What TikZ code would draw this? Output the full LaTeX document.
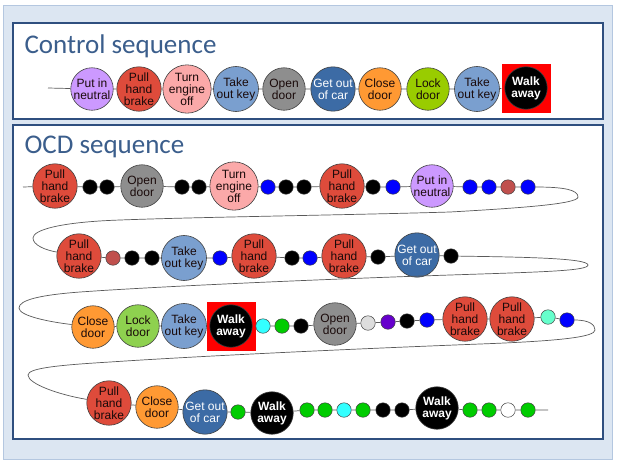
\documentclass[tikz,border=0pt]{standalone}
\usepackage{fontspec}
\setmainfont{Liberation Sans}
\newfontfamily\headfont{Carlito}
\definecolor{framefill}{HTML}{DCE6F2}
\definecolor{frameline}{HTML}{B4C7E0}
\definecolor{panelblue}{HTML}{2F4F7F}
\definecolor{headblue}{HTML}{3B5E8C}
\definecolor{edgegray}{HTML}{404040}
\definecolor{wiregray}{HTML}{5A5A5A}
\definecolor{lavender}{HTML}{CC99FF}
\definecolor{brakered}{HTML}{DE4B3B}
\definecolor{pinkoff}{HTML}{FBA9A9}
\definecolor{keyblue}{HTML}{7A9FCF}
\definecolor{doorgray}{HTML}{8E8E8E}
\definecolor{carblue}{HTML}{3C6BA5}
\definecolor{orangedoor}{HTML}{FF9933}
\definecolor{limegreen}{HTML}{99CC00}
\definecolor{lockgreen}{HTML}{8ED14F}
\definecolor{dotblue}{HTML}{0000FF}
\definecolor{brick}{HTML}{C0504D}
\definecolor{dotcyan}{HTML}{33FFFF}
\definecolor{dotgreen}{HTML}{00CC00}
\definecolor{dotgray}{HTML}{DDDDDD}
\definecolor{dotpurple}{HTML}{6600CC}
\definecolor{dotaqua}{HTML}{66FFCC}
\definecolor{darktext}{HTML}{1A0A0A}

\begin{document}
\begin{tikzpicture}[x=1pt,y=-1pt,
  wire/.style={draw=wiregray,line width=0.7pt},
  panel/.style={draw=panelblue,line width=1.5pt,fill=white},
  heading/.style={anchor=base west,text=headblue,font=\headfont\fontsize{27}{30}\selectfont},
  act/.style={circle,draw=edgegray,line width=0.6pt,minimum size=42.5pt,inner sep=0pt,
    align=center,text=darktext,font=\fontsize{12}{12}\selectfont},
  bead/.style={circle,draw=edgegray,line width=0.5pt,minimum size=14.5pt,inner sep=0pt},
  putneutral/.style={act,fill=lavender},
  handbrake/.style={act,fill=brakered},
  engineoff/.style={act,fill=pinkoff},
  takekey/.style={act,fill=keyblue},
  opendoor/.style={act,fill=doorgray},
  leavecar/.style={act,fill=carblue,text=white},
  closedoor/.style={act,fill=orangedoor},
  lockdoor/.style={act,fill=lockgreen},
  walkaway/.style={act,fill=black,text=white,font=\bfseries\fontsize{12}{12}\selectfont},
  walksq/.style={rectangle,fill=red,minimum size=49pt,inner sep=0pt}]
  \useasboundingbox (0,0) rectangle (617,464);
  \fill[white] (0,0) rectangle (617,464);
  % frame and panels
  \draw[draw=frameline,fill=framefill] (3,5) rectangle (612,459);
  \draw[panel] (13,23) rectangle (603,119);
  \draw[panel] (13,125) rectangle (603,439);
  \node[heading] (ctltitle) at (21,53) {Control sequence};
  \node[heading] (ocdtitle) at (21,153) {OCD sequence};

  % control sequence
  \coordinate (cstart) at (48,88);
  \node[putneutral] (c1) at (92,89) {Put in\\neutral};
  \node[handbrake] (c2) at (139,89) {Pull\\hand\\brake};
  \node[engineoff] (c3) at (187,89) {Turn\\engine\\off};
  \node[takekey] (c4) at (236,89) {Take\\out key};
  \node[opendoor] (c5) at (284,89) {Open\\door};
  \node[leavecar] (c6) at (333,89) {Get out\\of car};
  \node[closedoor] (c7) at (380,89) {Close\\door};
  \node[lockdoor,fill=limegreen] (c8) at (428,89) {Lock\\door};
  \node[takekey] (c9) at (477,89) {Take\\out key};
  \node[walksq] (c10sq) at (526,88) {};
  \node[walkaway] (c10) at (526,88) {Walk\\away};
  \draw[wire] (cstart) -- (c1) -- (c2) -- (c3) -- (c4) -- (c5) -- (c6) -- (c7) -- (c8) -- (c9) -- (c10sq);

  % OCD row 1
  \coordinate (r1start) at (23,187);
  \node[handbrake] (r1a) at (55,186) {Pull\\hand\\brake};
  \node[bead,fill=black] (r1b) at (90,187) {};
  \node[bead,fill=black] (r1c) at (107,187) {};
  \node[opendoor] (r1d) at (142,186) {Open\\door};
  \node[bead,fill=black] (r1e) at (182,187) {};
  \node[bead,fill=black] (r1f) at (199,187) {};
  \node[engineoff] (r1g) at (234,186) {Turn\\engine\\off};
  \node[bead,fill=dotblue] (r1h) at (268,187) {};
  \node[bead,fill=black] (r1i) at (286,187) {};
  \node[bead,fill=black] (r1j) at (304,187) {};
  \node[handbrake] (r1k) at (342,186) {Pull\\hand\\brake};
  \node[bead,fill=black] (r1l) at (373,187) {};
  \node[bead,fill=dotblue] (r1m) at (393,187) {};
  \node[putneutral] (r1n) at (432,186) {Put in\\neutral};
  \node[bead,fill=dotblue] (r1o) at (470,187) {};
  \node[bead,fill=dotblue] (r1p) at (489,187) {};
  \node[bead,fill=brick] (r1q) at (508,187) {};
  \node[bead,fill=dotblue] (r1r) at (528,187) {};
  \draw[wire] (r1start) -- (r1a) -- (r1b) -- (r1c) -- (r1d) -- (r1e) -- (r1f) -- (r1g) -- (r1h) -- (r1i)
    -- (r1j) -- (r1k) -- (r1l) -- (r1m) -- (r1n) -- (r1o) -- (r1p) -- (r1q) -- (r1r);

  % OCD row 2
  \node[handbrake] (r2a) at (79,256) {Pull\\hand\\brake};
  \node[bead,fill=brick] (r2b) at (113,258) {};
  \node[bead,fill=black] (r2c) at (132,258) {};
  \node[bead,fill=black] (r2d) at (152,258) {};
  \node[takekey] (r2e) at (184,258) {Take\\out key};
  \node[bead,fill=dotblue] (r2f) at (220,258) {};
  \node[handbrake] (r2g) at (254,256) {Pull\\hand\\brake};
  \node[bead,fill=black] (r2h) at (292,258) {};
  \node[bead,fill=dotblue] (r2i) at (310,258) {};
  \node[handbrake] (r2j) at (344,256) {Pull\\hand\\brake};
  \node[bead,fill=black] (r2k) at (378,257) {};
  \node[leavecar] (r2l) at (417,255) {Get out\\of car};
  \node[bead,fill=black] (r2m) at (451,256) {};
  \draw[wire] (r2a) -- (r2b) -- (r2c) -- (r2d) -- (r2e) -- (r2f) -- (r2g) -- (r2h) -- (r2i) -- (r2j)
    -- (r2k) -- (r2l) -- (r2m);

  % OCD row 3
  \node[closedoor] (r3a) at (93,327) {Close\\door};
  \node[lockdoor] (r3b) at (138,326) {Lock\\door};
  \node[takekey] (r3c) at (184,326) {Take\\out key};
  \node[walksq] (r3dsq) at (231,326) {};
  \node[walkaway] (r3d) at (231,326) {Walk\\away};
  \node[bead,fill=dotcyan] (r3e) at (263,326) {};
  \node[bead,fill=dotgreen] (r3f) at (282,326) {};
  \node[bead,fill=black] (r3g) at (301,326) {};
  \node[opendoor] (r3h) at (335,324) {Open\\door};
  \node[bead,fill=dotgray] (r3i) at (368,323) {};
  \node[bead,fill=dotpurple] (r3j) at (388,322) {};
  \node[bead,fill=black] (r3k) at (407,321) {};
  \node[bead,fill=dotblue] (r3l) at (427,320) {};
  \node[handbrake] (r3m) at (465,319) {Pull\\hand\\brake};
  \node[handbrake] (r3n) at (512,319) {Pull\\hand\\brake};
  \node[bead,fill=dotaqua] (r3o) at (548,317) {};
  \node[bead,fill=dotblue] (r3p) at (567,320) {};
  \draw[wire] (r3a) -- (r3b) -- (r3c) -- (r3dsq) -- (r3e) -- (r3f) -- (r3g) -- (r3h) -- (r3i) -- (r3j)
    -- (r3k) -- (r3l) -- (r3m) -- (r3n) -- (r3o) -- (r3p);

  % OCD row 4
  \node[handbrake] (r4a) at (109,403) {Pull\\hand\\brake};
  \node[closedoor] (r4b) at (157,407) {Close\\door};
  \node[leavecar] (r4c) at (205,412) {Get out\\of car};
  \node[bead,fill=dotgreen] (r4d) at (238,412) {};
  \node[walkaway] (r4e) at (272,413) {Walk\\away};
  \node[bead,fill=dotgreen] (r4f) at (307,410) {};
  \node[bead,fill=dotgreen] (r4g) at (325,410) {};
  \node[bead,fill=dotcyan] (r4h) at (344,410) {};
  \node[bead,fill=dotgreen] (r4i) at (363,410) {};
  \node[bead,fill=black] (r4j) at (383,410) {};
  \node[bead,fill=black] (r4k) at (402,410) {};
  \node[walkaway] (r4l) at (437,408) {Walk\\away};
  \node[bead,fill=dotgreen] (r4m) at (470,410) {};
  \node[bead,fill=dotgreen] (r4n) at (489,410) {};
  \node[bead,fill=white] (r4o) at (508,410) {};
  \node[bead,fill=dotgreen] (r4p) at (528,410) {};
  \coordinate (r4end) at (548,410);
  \draw[wire] (r4a) -- (r4b) -- (r4c) -- (r4d) -- (r4e) -- (r4f) -- (r4g) -- (r4h) -- (r4i) -- (r4j)
    -- (r4k) -- (r4l) -- (r4m) -- (r4n) -- (r4o) -- (r4p) -- (r4end);

  % turns between rows
  \draw[wire] (r1r) .. controls (565,187) and (578,190) .. (578,197)
    .. controls (578,204) and (520,208) .. (450,212)
    .. controls (350,215) and (200,217) .. (120,220)
    .. controls (60,222) and (33,230) .. (33,238)
    .. controls (33,245) and (45,250) .. (r2a);
  \draw[wire] (r2m) .. controls (520,257) and (588,258) .. (588,265)
    .. controls (588,271) and (540,272) .. (450,275)
    .. controls (300,280) and (150,287) .. (80,292)
    .. controls (40,295) and (19,300) .. (19,308)
    .. controls (19,316) and (50,322) .. (r3a);
  \draw[wire] (r3p) .. controls (590,320) and (595,325) .. (595,330)
    .. controls (595,337) and (560,341) .. (480,344)
    .. controls (350,349) and (200,356) .. (110,362)
    .. controls (60,365) and (28,368) .. (28,375)
    .. controls (28,384) and (60,395) .. (r4a);
\end{tikzpicture}
\end{document}
